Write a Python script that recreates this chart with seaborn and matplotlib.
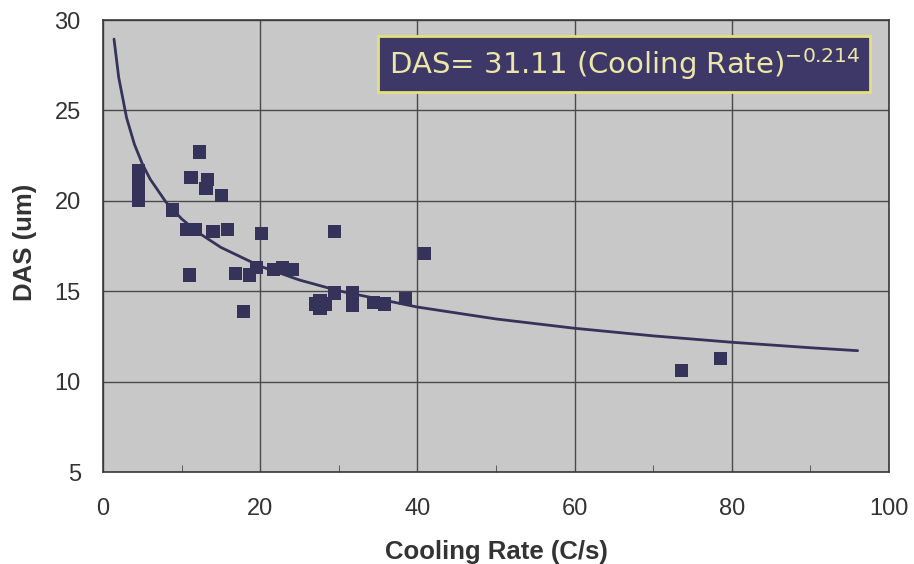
import numpy as np
import pandas as pd
import seaborn as sns
import matplotlib.pyplot as plt
from matplotlib.patches import Rectangle

cooling_rate = [4.5, 4.5, 4.5, 4.5, 8.8, 10.6, 11.2, 11.7, 12.3, 13.1, 13.3, 14.0,
                15.1, 15.8, 11.0, 16.9, 18.6, 19.5, 17.9, 20.2, 21.7, 22.8, 24.1,
                29.4, 40.9, 27.0, 27.6, 28.3, 27.6, 29.5, 31.7, 31.7, 34.4, 35.8,
                38.5, 73.6, 78.6]
das = [21.7, 21.4, 20.7, 20.0, 19.5, 18.4, 21.3, 18.4, 22.7, 20.7, 21.2, 18.3,
       20.3, 18.4, 15.9, 16.0, 15.9, 16.3, 13.9, 18.2, 16.2, 16.3, 16.2,
       18.3, 17.1, 14.3, 14.5, 14.3, 14.05, 14.9, 14.9, 14.2, 14.4, 14.3,
       14.6, 10.6, 11.3]

# fit printed on the chart: DAS = 31.11 * CR^-0.214
fit_a = 31.11
fit_b = -0.214
fit_x = [1.4, 2, 3, 4, 5, 6, 8, 10, 12, 15, 20, 25, 30, 40, 50, 60, 70, 80, 90, 96]

x_ticks = [0, 20, 40, 60, 80, 100]
y_ticks = [5, 10, 15, 20, 25, 30]

pts = pd.DataFrame({"rate": cooling_rate, "das": das})
curve = pd.DataFrame({"rate": fit_x})
curve["das"] = fit_a * curve["rate"] ** fit_b

sns.set_style("white")
plt.rcParams["font.family"] = ["Liberation Sans", "DejaVu Sans"]

fig = plt.figure(figsize=(9.14, 5.64), dpi=100)
ax = fig.add_axes([0.1127, 0.163, 0.860, 0.8014])
ax.set_facecolor("#c8c8c8")

navy = "#35335a"
sns.lineplot(data=curve, x="rate", y="das", ax=ax, color=navy, lw=2.0, zorder=3)
sns.scatterplot(data=pts, x="rate", y="das", ax=ax, marker="s", s=90,
                color=navy, edgecolor="none", zorder=4)

ax.set_xlim(0, 100)
ax.set_ylim(5, 30)
ax.set_xticks(x_ticks)
ax.set_yticks(y_ticks)
ax.set_xticks(np.arange(10, 100, 20), minor=True)
ax.grid(True, which="major", color="#4a4a4a", lw=1.0, zorder=1)
ax.set_axisbelow(True)
ax.tick_params(axis="both", which="major", length=0, labelsize=17)
ax.tick_params(axis="x", which="major", pad=19)
ax.tick_params(axis="y", which="major", pad=16)
ax.tick_params(axis="x", which="minor", direction="in", length=5, color="#4a4a4a", bottom=True)
for s in ax.spines.values():
    s.set_color("#3a3a3a")
    s.set_linewidth(1.2)

ax.set_xlabel("Cooling Rate (C/s)", fontsize=18.5, fontweight="bold", color="#333333")
ax.set_ylabel("DAS (um)", fontsize=18.5, fontweight="bold", color="#333333")
ax.xaxis.set_label_coords(0.5, -0.177)
ax.xaxis.label.set_verticalalignment("center")
ax.yaxis.set_label_coords(-0.099, 0.509)
ax.yaxis.label.set_verticalalignment("center")
for lab in ax.get_xticklabels() + ax.get_yticklabels():
    lab.set_color("#333333")

# equation box
ax.add_patch(Rectangle((35.0, 26.0), 62.6, 3.1, facecolor="#3d3868",
                       edgecolor="#e4e07a", lw=2, zorder=5))
ax.text(66.3, 27.55, "DAS= 31.11 (Cooling Rate)$^{-0.214}$", ha="center", va="center",
        fontsize=21, color="#ece6a8", family="DejaVu Sans", zorder=6)

fig.savefig("out.png", dpi=100)
